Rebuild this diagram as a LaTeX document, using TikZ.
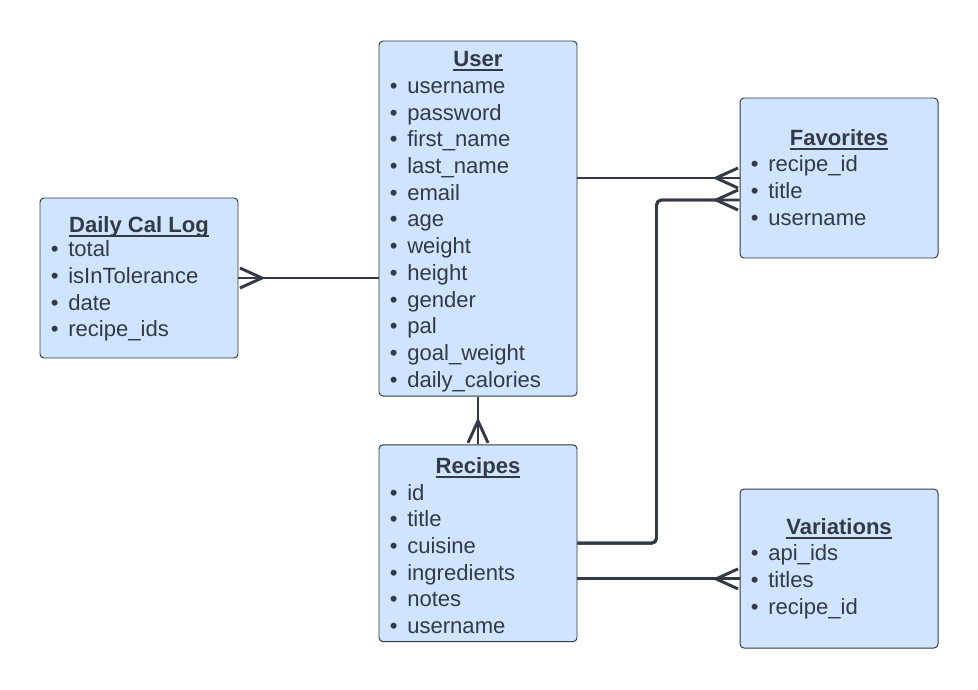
\documentclass[tikz,border=0pt]{standalone}
\usepackage{fontspec}
\setmainfont{Liberation Sans}
\usetikzlibrary{arrows.meta}
\definecolor{erfill}{HTML}{CFE4FF}
\definecolor{erline}{HTML}{333A45}
\newcommand{\hdr}[1]{\setbox0\hbox{#1}\rlap{\rule[-0.115cm]{\wd0}{0.05cm}}\box0}

\begin{document}
\begin{tikzpicture}[
            box/.style={
                rectangle,
                draw=erline,
                fill=erfill,
                line width=0.7pt,
                rounded corners=0.1cm,
                minimum width=4.95cm,
            },
            title/.style={
                anchor=base,
                inner sep=0pt,
                text=erline,
                font=\fontsize{15.7}{19}\selectfont\bfseries
            },
            item/.style={
                anchor=base west,
                inner sep=0pt,
                text=erline,
                font=\fontsize{15.7}{19}\selectfont,
                execute at begin node={\makebox[0.4375cm][l]{\textbullet}}
            },
            link/.style={draw=erline, line width=2.1pt},
            many/.style={link, postaction={draw=erline, -{Straight Barb[reversed, length=0.55cm, width=0.5cm]}}}
        ]
        \useasboundingbox (0,0) rectangle (24.45,-17.225);

        % Entity boxes
        \node[box, minimum height=8.875cm] (user) at (11.95,-5.4625) {};
        \node[box, minimum height=4cm] (fav) at (20.975,-4.45) {};
        \node[box, minimum height=4cm] (log) at (3.475,-6.95) {};
        \node[box, minimum height=4.92cm] (rec) at (11.95,-13.58) {};
        \node[box, minimum height=3.975cm] (var) at (20.975,-14.2125) {};

        % Box titles
        \node[title] (t1) at (11.95,-1.6675) {\hdr{User}};
        \node[title] (t2) at (20.975,-3.625) {\hdr{Favorites}};
        \node[title] (t3) at (3.475,-5.8) {\hdr{Daily Cal Log}};
        \node[title] (t4) at (11.95,-11.8325) {\hdr{Recipes}};
        \node[title] (t5) at (20.975,-13.35) {\hdr{Variations}};

        % Items for User
        \node[item] (i11) at (9.7375,-2.335) {username};
        \node[item] (i12) at (9.7375,-3.0025) {password};
        \node[item] (i13) at (9.7375,-3.67) {first\_name};
        \node[item] (i14) at (9.7375,-4.3375) {last\_name};
        \node[item] (i15) at (9.7375,-5.005) {email};
        \node[item] (i16) at (9.7375,-5.6725) {age};
        \node[item] (i17) at (9.7375,-6.34) {weight};
        \node[item] (i18) at (9.7375,-7.0075) {height};
        \node[item] (i19) at (9.7375,-7.675) {gender};
        \node[item] (i110) at (9.7375,-8.3425) {pal};
        \node[item] (i111) at (9.7375,-9.01) {goal\_weight};
        \node[item] (i112) at (9.7375,-9.6775) {daily\_calories};

        % Items for Favorites
        \node[item] (i21) at (18.7625,-4.2925) {recipe\_id};
        \node[item] (i22) at (18.7625,-4.96) {title};
        \node[item] (i23) at (18.7625,-5.6275) {username};

        % Items for Daily Cal Log
        \node[item] (i31) at (1.2625,-6.42) {total};
        \node[item] (i32) at (1.2625,-7.0875) {isInTolerance};
        \node[item] (i33) at (1.2625,-7.755) {date};
        \node[item] (i34) at (1.2625,-8.4225) {recipe\_ids};

        % Items for Recipes
        \node[item] (i41) at (9.7375,-12.5) {id};
        \node[item] (i42) at (9.7375,-13.1675) {title};
        \node[item] (i43) at (9.7375,-13.835) {cuisine};
        \node[item] (i44) at (9.7375,-14.5025) {ingredients};
        \node[item] (i45) at (9.7375,-15.17) {notes};
        \node[item] (i46) at (9.7375,-15.8375) {username};

        % Items for Variations
        \node[item] (i51) at (18.7625,-14.0175) {api\_ids};
        \node[item] (i52) at (18.7625,-14.685) {titles};
        \node[item] (i53) at (18.7625,-15.3525) {recipe\_id};

        % Connector end points off the box centres
        \coordinate (favlow) at ([yshift=-0.55cm]fav.west);
        \coordinate (varlow) at ([yshift=-0.26cm]var.west);

        % Connectors (crow's foot at the many side)
        \draw[many] (fav.west -| user.east) -- (fav.west);
        \draw[many] (log.east -| user.west) -- (log.east);
        \draw[many] (user.south) -- (rec.north);
        \draw[many, rounded corners=0.125cm] (rec.east) -| ([xshift=-2.075cm]favlow) -- (favlow);
        \draw[many] (varlow -| rec.east) -- (varlow);

\end{tikzpicture}
\end{document}
